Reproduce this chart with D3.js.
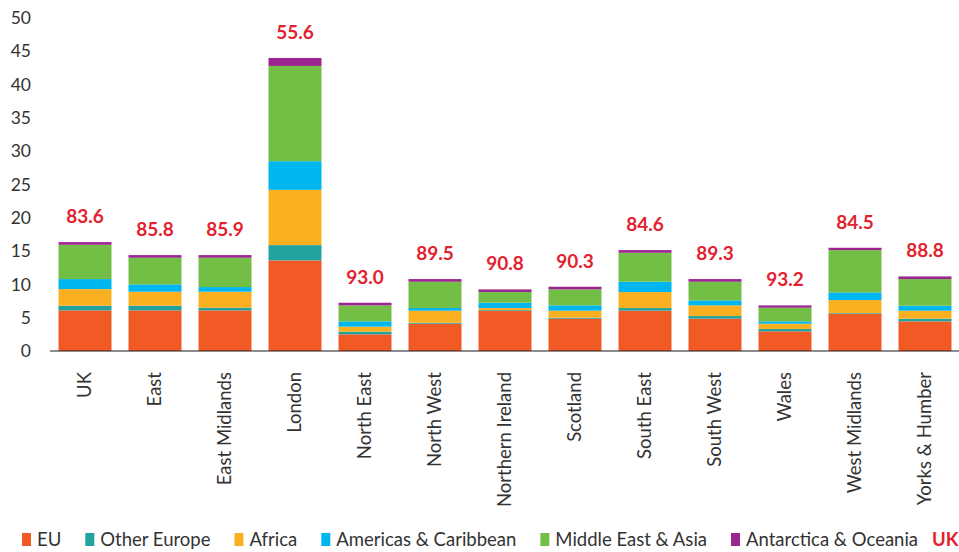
<!DOCTYPE html>
<html>
<head>
<meta charset="utf-8">
<script src="https://cdn.jsdelivr.net/npm/d3@7"></script>
<style>
  html, body { margin: 0; padding: 0; background: #fff; }
  svg { display: block; font-family: Lato, "Open Sans", sans-serif; }
</style>
</head>
<body>
<svg id="chart" width="959" height="552"></svg>
<script>
// Regions, in drawing order
const regions = ["UK", "East", "East Midlands", "London", "North East", "North West",
  "Northern Ireland", "Scotland", "South East", "South West", "Wales", "West Midlands",
  "Yorks & Humber"];

// Share of population by region of birth (%), one array per origin group
const eu          = [6.1, 6.1, 6.1, 13.6, 2.5, 4.1, 6.05, 4.85, 6.05, 4.85, 2.95, 5.6, 4.45];
const otherEurope = [0.7, 0.7, 0.4, 2.3, 0.4, 0.15, 0.1, 0.15, 0.4, 0.4, 0.35, 0.1, 0.4];
const africa      = [2.5, 2.1, 2.4, 8.3, 0.75, 1.8, 0.3, 1.05, 2.4, 1.6, 0.8, 1.95, 1.2];
const americas    = [1.5, 1.1, 0.7, 4.3, 0.8, 0.4, 0.8, 0.8, 1.55, 0.75, 0.35, 1.15, 0.75];
const meAsia      = [5.15, 4.0, 4.4, 14.3, 2.4, 3.95, 1.6, 2.4, 4.35, 2.8, 2.05, 6.35, 4.0];
const oceania     = [0.4, 0.4, 0.4, 1.2, 0.4, 0.4, 0.4, 0.4, 0.4, 0.4, 0.35, 0.35, 0.4];

// UK-born share (%) printed above each bar
const ukBorn = [83.6, 85.8, 85.9, 55.6, 93.0, 89.5, 90.8, 90.3, 84.6, 89.3, 93.2, 84.5, 88.8];

const seriesNames  = ["EU", "Other Europe", "Africa", "Americas & Caribbean", "Middle East & Asia", "Antarctica & Oceania"];
const seriesValues = [eu, otherEurope, africa, americas, meAsia, oceania];
const seriesColors = ["#f15a24", "#22a39f", "#fbb021", "#00b6ef", "#73bf45", "#9c2690"];

const yTicks = [0, 5, 10, 15, 20, 25, 30, 35, 40, 45, 50];

const svg = d3.select("#chart");
const textColor = "#333333";
const red = "#e2222e";

const rows = regions.map((r, i) => {
  const o = { region: r };
  seriesNames.forEach((s, k) => { o[s] = seriesValues[k][i]; });
  return o;
});

const x = d3.scaleBand().domain(regions).range([50, 960]).paddingInner(0.243).paddingOuter(0.1215);
const y = d3.scaleLinear().domain([0, 50]).range([351, 18]);

const stacked = d3.stack().keys(seriesNames)(rows);

// Stacked bars
svg.append("g").selectAll("g")
  .data(stacked)
  .join("g")
  .attr("fill", (d, i) => seriesColors[i])
  .selectAll("rect")
  .data(d => d)
  .join("rect")
  .attr("x", d => x(d.data.region))
  .attr("width", x.bandwidth())
  .attr("y", d => y(d[1]))
  .attr("height", d => y(d[0]) - y(d[1]));

// Y axis: labels only
const yAxis = svg.append("g")
  .attr("transform", "translate(31,0)")
  .call(d3.axisLeft(y).tickValues(yTicks).tickSize(0).tickPadding(0));
yAxis.select(".domain").remove();
yAxis.selectAll("text")
  .attr("font-size", 17.5)
  .attr("font-family", "Lato, sans-serif")
  .attr("fill", textColor);

// X axis: baseline and rotated region names
const xAxis = svg.append("g")
  .attr("transform", "translate(0,351)")
  .call(d3.axisBottom(x).tickSize(0).tickPadding(0));
xAxis.select(".domain").remove();
xAxis.append("line")
  .attr("x1", 50).attr("x2", 959)
  .attr("y1", 0).attr("y2", 0)
  .attr("stroke", "#1a1a1a").attr("stroke-width", 1.2);
xAxis.selectAll(".tick text")
  .attr("font-size", 18.5)
  .attr("font-family", "Lato, sans-serif")
  .attr("fill", textColor)
  .attr("transform", "rotate(-90)")
  .attr("text-anchor", "end")
  .attr("x", -21)
  .attr("y", 0)
  .attr("dy", "0.35em");

// UK-born labels above the bars
const totals = rows.map(r => d3.sum(seriesNames, s => r[s]));
svg.append("g").selectAll("text")
  .data(regions)
  .join("text")
  .attr("x", d => x(d) + x.bandwidth() / 2)
  .attr("y", (d, i) => y(totals[i]) - 19)
  .attr("text-anchor", "middle")
  .attr("font-size", 19)
  .attr("font-weight", "bold")
  .attr("fill", red)
  .text((d, i) => ukBorn[i].toFixed(1));

// Legend
const legend = svg.append("g").attr("transform", "translate(0,540)");
let lx = 22;
seriesNames.forEach((name, i) => {
  legend.append("rect")
    .attr("x", lx).attr("y", -7)
    .attr("width", 9).attr("height", 13)
    .attr("fill", seriesColors[i]);
  const t = legend.append("text")
    .attr("x", lx + 15).attr("y", 0)
    .attr("dy", "0.35em")
    .attr("font-size", 18.5)
    .attr("fill", textColor)
    .text(name);
  lx += 15 + t.node().getComputedTextLength() + 24;
});
legend.append("text")
  .attr("x", lx - 10).attr("y", 0)
  .attr("dy", "0.35em")
  .attr("font-size", 18.5)
  .attr("font-weight", "bold")
  .attr("fill", red)
  .text("UK");
</script>
</body>
</html>
